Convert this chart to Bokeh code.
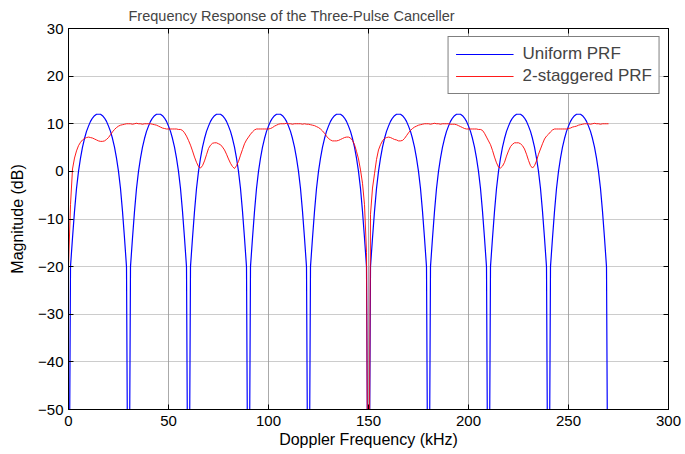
from bokeh.plotting import figure
from bokeh.models import LinearAxis, Range1d, Legend, LegendItem, SingleIntervalTicker, CustomJSTickFormatter
from bokeh.embed import file_html
from bokeh.resources import INLINE

# Doppler frequency sample grid (kHz)
freq_khz = list(range(0, 271))

# Uniform PRF response (dB); nulls fall far below the axis
uniform_db = [
    -100, -20, -14, -8.4, -3.6, 0.0, 2.8, 5.1, 6.9, 8.4, 9.5, 10.5, 11.2, 11.7, 12.0, 12.0, 12.0, 11.7, 11.2, 10.5, 9.5, 8.4, 6.9, 5.1, 2.8, 0.0, -3.6, -8.4, -14, -20,
    -100, -20, -14, -8.4, -3.6, 0.0, 2.8, 5.1, 6.9, 8.4, 9.5, 10.5, 11.2, 11.7, 12.0, 12.0, 12.0, 11.7, 11.2, 10.5, 9.5, 8.4, 6.9, 5.1, 2.8, 0.0, -3.6, -8.4, -14, -20,
    -100, -20, -14, -8.4, -3.6, 0.0, 2.8, 5.1, 6.9, 8.4, 9.5, 10.5, 11.2, 11.7, 12.0, 12.0, 12.0, 11.7, 11.2, 10.5, 9.5, 8.4, 6.9, 5.1, 2.8, 0.0, -3.6, -8.4, -14, -20,
    -100, -20, -14, -8.4, -3.6, 0.0, 2.8, 5.1, 6.9, 8.4, 9.5, 10.5, 11.2, 11.7, 12.0, 12.0, 12.0, 11.7, 11.2, 10.5, 9.5, 8.4, 6.9, 5.1, 2.8, 0.0, -3.6, -8.4, -14, -20,
    -100, -20, -14, -8.4, -3.6, 0.0, 2.8, 5.1, 6.9, 8.4, 9.5, 10.5, 11.2, 11.7, 12.0, 12.0, 12.0, 11.7, 11.2, 10.5, 9.5, 8.4, 6.9, 5.1, 2.8, 0.0, -3.6, -8.4, -14, -20,
    -100, -20, -14, -8.4, -3.6, 0.0, 2.8, 5.1, 6.9, 8.4, 9.5, 10.5, 11.2, 11.7, 12.0, 12.0, 12.0, 11.7, 11.2, 10.5, 9.5, 8.4, 6.9, 5.1, 2.8, 0.0, -3.6, -8.4, -14, -20,
    -100, -20, -14, -8.4, -3.6, 0.0, 2.8, 5.1, 6.9, 8.4, 9.5, 10.5, 11.2, 11.7, 12.0, 12.0, 12.0, 11.7, 11.2, 10.5, 9.5, 8.4, 6.9, 5.1, 2.8, 0.0, -3.6, -8.4, -14, -20,
    -100, -20, -14, -8.4, -3.6, 0.0, 2.8, 5.1, 6.9, 8.4, 9.5, 10.5, 11.2, 11.7, 12.0, 12.0, 12.0, 11.7, 11.2, 10.5, 9.5, 8.4, 6.9, 5.1, 2.8, 0.0, -3.6, -8.4, -14, -20,
    -100, -20, -14, -8.4, -3.6, 0.0, 2.8, 5.1, 6.9, 8.4, 9.5, 10.5, 11.2, 11.7, 12.0, 12.0, 12.0, 11.7, 11.2, 10.5, 9.5, 8.4, 6.9, 5.1, 2.8, 0.0, -3.6, -8.4, -14, -20,
    -100,
]

# 2-staggered PRF response (dB)
staggered_db = [
    -20, -7, 0.5, 2.8, 4.3, 5.4, 6.1, 6.6, 6.9, 7.1,
    7.2, 7.1, 7.0, 6.8, 6.6, 6.4, 6.3, 6.3, 6.4, 6.7,
    7.1, 7.7, 8.3, 8.8, 9.2, 9.5, 9.7, 9.8, 9.9, 10.0,
    10.0, 10.0, 9.9, 10.0, 10.1, 10.0, 10.0, 9.9, 10.0, 10.0,
    10.0, 10.0, 9.9, 9.8, 9.7, 9.5, 9.3, 9.1, 9.0, 8.9,
    8.9, 8.9, 8.9, 8.9, 8.9, 8.8, 8.8, 8.6, 8.1, 7.4,
    6.5, 5.5, 4.3, 3.0, 1.9, 1.0, 0.7, 1.2, 2.2, 3.5,
    4.8, 5.5, 5.9, 6.0, 6.0, 5.8, 5.6, 5.1, 4.5, 3.6,
    2.6, 1.7, 1.0, 0.6, 1.2, 2.1, 3.4, 4.6, 5.8, 6.6,
    7.2, 7.8, 8.3, 8.7, 8.9, 8.9, 8.9, 8.9, 8.9, 8.9,
    8.9, 9.0, 9.2, 9.5, 9.7, 9.9, 10.0, 10.0, 10.0, 10.1,
    10.0, 10.0, 9.9, 10.0, 10.0, 10.0, 10.0, 9.9, 10.0, 9.9,
    9.9, 9.8, 9.7, 9.6, 9.4, 9.2, 8.9, 8.5, 8.0, 7.4,
    6.9, 6.6, 6.4, 6.4, 6.4, 6.5, 6.7, 6.9, 7.1, 7.2,
    7.2, 7.0, 6.5, 5.6, 4.2, 2.6, 0.3, -2.5, -7.0, -17.0,
    -100, -9.0, -3.5, -0.5, 2.5, 4.5, 5.6, 6.4, 6.9, 7.1,
    7.2, 7.1, 6.9, 6.7, 6.6, 6.4, 6.4, 6.5, 6.9, 7.5,
    8.1, 8.6, 9.0, 9.3, 9.5, 9.7, 9.8, 9.9, 10.0, 10.0,
    10.0, 9.9, 10.0, 10.1, 10.0, 10.0, 9.9, 10.0, 10.0, 10.0,
    10.0, 9.9, 9.9, 9.9, 9.8, 9.6, 9.4, 9.2, 9.0, 8.9,
    8.9, 8.9, 8.9, 8.9, 8.9, 8.8, 8.8, 8.6, 8.0, 7.2,
    6.4, 5.6, 4.4, 3.0, 1.8, 0.9, 0.7, 1.1, 1.9, 3.2,
    4.3, 5.2, 5.7, 6.0, 6.0, 6.0, 5.8, 5.4, 4.7, 3.6,
    2.3, 1.2, 0.7, 1.2, 2.2, 3.6, 4.7, 5.8, 6.8, 7.4,
    7.8, 8.3, 8.7, 8.9, 8.9, 8.9, 8.9, 8.9, 8.9, 8.9,
    9.0, 9.1, 9.3, 9.4, 9.5, 9.7, 9.8, 9.9, 10.0, 10.0,
    10.0, 9.9, 10.0, 10.1, 10.0, 10.0, 9.9, 10.0, 10.0, 10.0,
    10.0,
]

series_names = ["Uniform PRF", "2-staggered PRF"]
title_text = "Frequency Response of the Three-Pulse Canceller"
x_label = "Doppler Frequency (kHz)"
y_label = "Magnitude (dB)"

FONT = "Liberation Sans"

p = figure(
    width=685, height=454,
    x_range=Range1d(0, 300), y_range=Range1d(-50, 30),
    output_backend="svg", toolbar_location=None,
    min_border_left=68, min_border_right=17, min_border_top=28, min_border_bottom=45,
    x_axis_label=x_label, y_axis_label=y_label,
)
p.title.text = title_text
p.title.text_font = FONT
p.title.text_font_size = "14.5px"
p.title.text_font_style = "normal"
p.title.align = "left"
p.title.offset = 60
p.title.standoff = 9

p.background_fill_color = "white"
p.border_fill_color = "white"
p.outline_line_color = "black"
p.outline_line_width = 1

p.xaxis.ticker = SingleIntervalTicker(interval=50)
p.yaxis.ticker = SingleIntervalTicker(interval=10)

for ax in [p.xaxis[0], p.yaxis[0]]:
    ax.major_tick_in = 5
    ax.major_tick_out = 0
    ax.minor_tick_in = 0
    ax.minor_tick_out = 0
    ax.axis_line_color = "black"
    ax.major_tick_line_color = "black"
    ax.major_label_text_font = FONT
    ax.major_label_text_font_size = "15px"
    ax.major_label_text_color = "black"
    ax.axis_label_text_font = FONT
    ax.axis_label_text_font_size = "16px"
    ax.axis_label_text_font_style = "normal"
    ax.axis_label_text_color = "black"

p.xaxis.major_label_standoff = 6
p.xaxis.axis_label_standoff = 2
p.yaxis.major_label_standoff = 5
p.yaxis.axis_label_standoff = 9

blank = CustomJSTickFormatter(code="return '';")
top_axis = LinearAxis(ticker=SingleIntervalTicker(interval=50), formatter=blank,
                      major_tick_in=5, major_tick_out=0, minor_tick_in=0, minor_tick_out=0,
                      major_label_standoff=0, axis_line_color="black")
right_axis = LinearAxis(ticker=SingleIntervalTicker(interval=10), formatter=blank,
                        major_tick_in=5, major_tick_out=0, minor_tick_in=0, minor_tick_out=0,
                        major_label_standoff=0, axis_line_color="black")
p.add_layout(top_axis, "above")
p.add_layout(right_axis, "right")

p.xgrid.grid_line_color = "#555555"
p.xgrid.grid_line_dash = "1 1"
p.ygrid.grid_line_color = "#999999"
p.ygrid.grid_line_dash = "1 1"

r_uni = p.line(freq_khz, uniform_db, line_color="#0000FF", line_width=1.2)
r_stag = p.line(freq_khz, staggered_db, line_color="#FF0000", line_width=0.9)

legend = Legend(
    items=[LegendItem(label=series_names[0], renderers=[r_uni]),
           LegendItem(label=series_names[1], renderers=[r_stag])],
    location="top_right",
    margin=8, padding=7, spacing=2,
    glyph_width=58, glyph_height=16, label_height=16, label_standoff=9,
    label_text_font=FONT, label_text_font_size="17px",
    border_line_color="black", border_line_width=1,
    background_fill_color="white", background_fill_alpha=1,
)
p.add_layout(legend, "center")

open("out.html", "w").write(file_html(p, INLINE))
